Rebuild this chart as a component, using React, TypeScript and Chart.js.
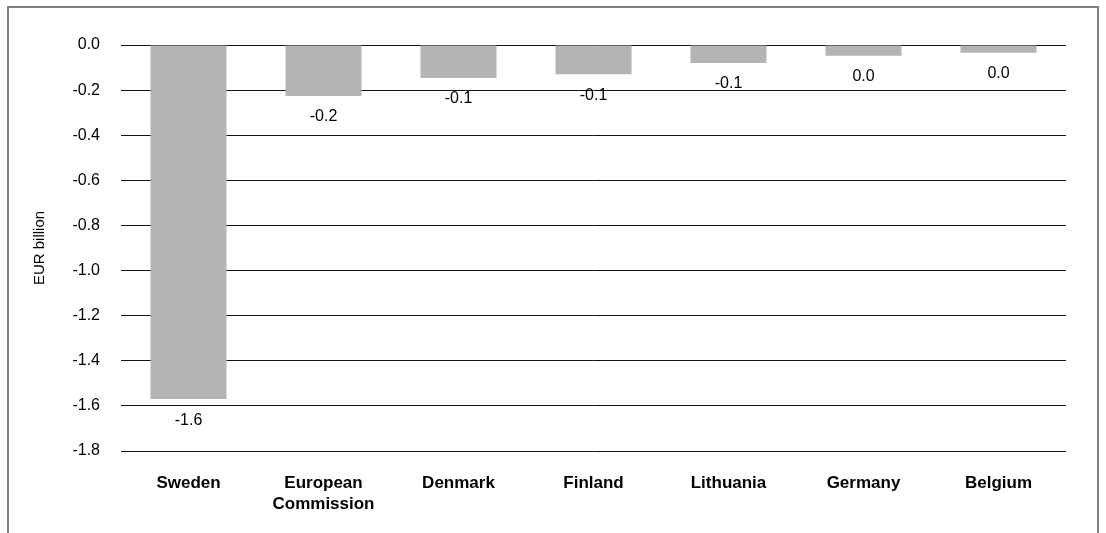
import React, { useEffect, useRef } from "react";
import { Chart, registerables } from "chart.js";

Chart.register(...registerables);

const categories: (string | string[])[] = [
  "Sweden",
  ["European", "Commission"],
  "Denmark",
  "Finland",
  "Lithuania",
  "Germany",
  "Belgium",
];
const values: number[] = [-1.57, -0.226, -0.146, -0.13, -0.08, -0.048, -0.034];
const yTitle = "EUR billion";
const yMin = -1.8;
const yMax = 0;
const yStep = 0.2;

const FONT = "'Liberation Sans', Arial, Helvetica, sans-serif";

const fmt = (v: number) => (Math.round(v * 10) / 10).toFixed(1);

const labelPlugin = {
  id: "barLabels",
  afterDatasetsDraw(chart: any) {
    const ctx = chart.ctx;
    const meta = chart.getDatasetMeta(0);
    ctx.save();
    ctx.font = `16px ${FONT}`;
    ctx.fillStyle = "#000";
    ctx.textAlign = "center";
    ctx.textBaseline = "middle";
    meta.data.forEach((el: any, i: number) => {
      const v = chart.data.datasets[0].data[i] as number;
      ctx.fillText(fmt(v), el.x, el.y + 21);
    });
    ctx.restore();
  },
};

export default function App() {
  const ref = useRef<HTMLCanvasElement | null>(null);
  useEffect(() => {
    if (!ref.current) return;
    const chart = new Chart(ref.current, {
      type: "bar",
      data: {
        labels: categories as any,
        datasets: [
          {
            data: values,
            backgroundColor: "#b4b4b4",
            borderWidth: 0,
            barPercentage: 0.563,
            categoryPercentage: 1,
          },
        ],
      },
      options: {
        animation: false,
        responsive: false,
        maintainAspectRatio: false,
        layout: { padding: { top: 45, right: 40, bottom: 0, left: 0 } },
        plugins: {
          legend: { display: false },
          tooltip: { enabled: false },
        },
        scales: {
          x: {
            grid: { display: false, drawTicks: false },
            border: { display: false },
            ticks: {
              color: "#000",
              padding: 22,
              maxRotation: 0,
              autoSkip: false,
              font: { family: FONT, size: 17, weight: "bold", lineHeight: 1.24 },
            },
            afterFit: (s: any) => {
              s.height = 82;
            },
          },
          y: {
            min: yMin,
            max: yMax,
            grid: { color: "#111", lineWidth: 1, drawTicks: false },
            border: { display: false },
            ticks: {
              stepSize: yStep,
              color: "#000",
              padding: 21,
              font: { family: FONT, size: 16 },
              callback: (v: any) => Number(v).toFixed(1),
            },
            title: {
              display: true,
              text: yTitle,
              color: "#000",
              font: { family: FONT, size: 15 },
              padding: { top: 31, bottom: 0 },
            },
            afterFit: (s: any) => {
              s.width = 121;
            },
          },
        },
      },
      plugins: [labelPlugin],
    });
    return () => chart.destroy();
  }, []);

  return (
    <div
      style={{
        position: "absolute",
        left: 0,
        top: 0,
        width: 1106,
        height: 533,
        overflow: "hidden",
        background: "#fff",
      }}
    >
      <div
        style={{
          position: "absolute",
          left: 7,
          top: 6,
          width: 1092,
          height: 600,
          boxSizing: "border-box",
          border: "2px solid #808080",
        }}
      />
      <canvas
        ref={ref}
        width={1106}
        height={533}
        style={{ position: "absolute", left: 0, top: 0, width: 1106, height: 533 }}
      />
    </div>
  );
}
